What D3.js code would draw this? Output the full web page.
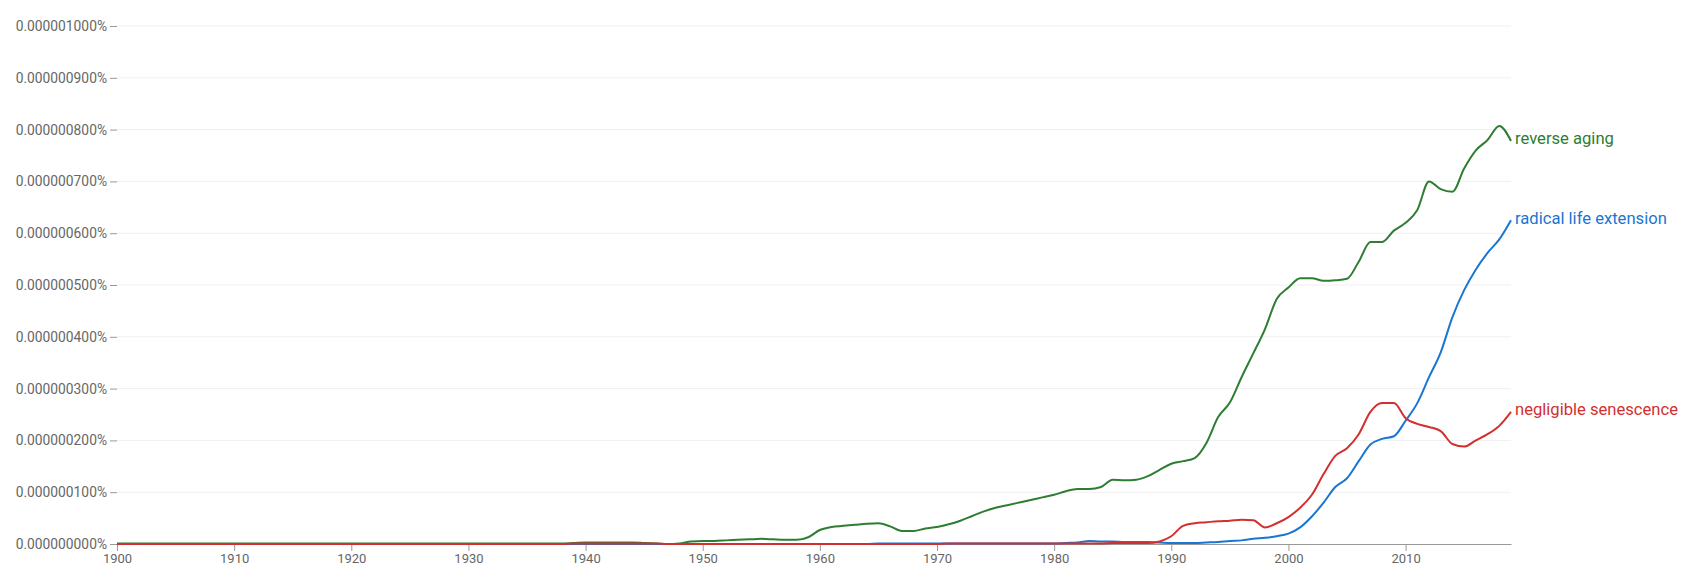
<!DOCTYPE html>
<html>
<head>
<meta charset="utf-8">
<script src="https://cdn.jsdelivr.net/npm/d3@7.9.0/dist/d3.min.js"></script>
<style>
  html, body { margin: 0; padding: 0; background: #fff; }
  svg { display: block; font-family: Roboto, "Noto Sans", sans-serif; }
  .grid line { stroke: #f0f0f0; }
  .tick text { fill: #666; }
</style>
</head>
<body>
<svg id="chart" width="1698" height="582"></svg>
<script>
// values in billionths of a percent (100 -> 0.000000100%)
const years = d3.range(1900, 2020);

const reverseAging = [
  1, 1, 1, 1, 1, 1, 1, 1, 1, 1,            // 1900s
  1, 1, 1, 1, 1, 1, 1, 1, 1, 1,            // 1910s
  1, 1, 1, 1, 1, 1, 1, 1, 1, 1,            // 1920s
  1, 1, 1, 1, 1, 1, 1, 1, 1, 2,            // 1930s
  3, 3, 3, 3, 3, 2, 1, 0, 1, 5,            // 1940s
  6, 6, 7, 8, 9, 10, 9, 8, 8, 13,          // 1950s
  27, 33, 35, 37, 39, 40, 34, 25, 25, 30,  // 1960s
  33, 38, 45, 54, 63, 70, 75, 80, 85, 90,  // 1970s
  95, 102, 106, 106, 110, 124, 123, 124, 131, 143, // 1980s
  155, 160, 166, 195, 245, 273, 322, 368, 415, 473, // 1990s
  495, 513, 513, 508, 509, 512, 545, 583, 583, 605, // 2000s
  620, 645, 700, 685, 680, 725, 760, 780, 807, 778  // 2010s
];

const radicalLifeExtension = [
  0, 0, 0, 0, 0, 0, 0, 0, 0, 0,
  0, 0, 0, 0, 0, 0, 0, 0, 0, 0,
  0, 0, 0, 0, 0, 0, 0, 0, 0, 0,
  0, 0, 0, 0, 0, 0, 0, 0, 0, 0,
  0, 0, 0, 0, 0, 0, 0, 0, 0, 0,
  0, 0, 0, 0, 0, 0, 0, 0, 0, 0,
  0, 0, 0, 0, 0, 1, 1, 1, 1, 1,
  1, 1, 1, 1, 1, 1, 1, 1, 1, 1,
  1, 2, 3, 6, 5, 5, 4, 4, 4, 3,
  2, 2, 2, 3, 4, 6, 7, 10, 12, 15,
  20, 32, 53, 80, 110, 127, 160, 192, 203, 208,
  238, 272, 322, 370, 438, 490, 530, 562, 588, 625
];

const negligibleSenescence = [
  0, 0, 0, 0, 0, 0, 0, 0, 0, 0,
  0, 0, 0, 0, 0, 0, 0, 0, 0, 0,
  0, 0, 0, 0, 0, 0, 0, 0, 0, 0,
  0, 0, 0, 0, 0, 0, 0, 0, 0, 1,
  1, 1, 1, 1, 1, 1, 1, 0, 0, 0,
  0, 0, 0, 0, 0, 0, 0, 0, 0, 0,
  0, 0, 0, 0, 0, 0, 0, 0, 0, 0,
  0, 1, 1, 1, 1, 1, 1, 1, 1, 1,
  1, 1, 1, 1, 1, 2, 2, 2, 2, 5,
  15, 35, 40, 42, 44, 45, 47, 46, 32, 40,
  52, 70, 95, 135, 170, 185, 212, 255, 272, 272,
  243, 232, 226, 218, 193, 188, 200, 212, 228, 255
];

const seriesNames = ["reverse aging", "radical life extension", "negligible senescence"];
const seriesValues = [reverseAging, radicalLifeExtension, negligibleSenescence];
const seriesColors = ["#2e7d32", "#1976d2", "#d32f2f"];

const yTicks = [0, 100, 200, 300, 400, 500, 600, 700, 800, 900, 1000];
const xTicks = [1900, 1910, 1920, 1930, 1940, 1950, 1960, 1970, 1980, 1990, 2000, 2010];

// ---------- Layout ----------
const width = 1698, height = 582;
const margin = { top: 26, right: 187, bottom: 38, left: 117 };

const svg = d3.select("#chart");

const x = d3.scaleLinear()
  .domain([1900, 2019])
  .range([margin.left, width - margin.right]);

const y = d3.scaleLinear()
  .domain([0, 1000])
  .range([height - margin.bottom, margin.top]);

// gridlines
svg.append("g")
  .attr("class", "grid")
  .selectAll("line")
  .data(yTicks.slice(1))
  .join("line")
  .attr("x1", x(1900))
  .attr("x2", x(2019))
  .attr("y1", d => y(d))
  .attr("y2", d => y(d));

// y axis (ticks and labels only)
const yAxis = svg.append("g")
  .attr("transform", `translate(${margin.left},0)`)
  .call(d3.axisLeft(y)
    .tickValues(yTicks)
    .tickSize(7)
    .tickPadding(3)
    .tickFormat(d => d3.format(".9f")(d * 1e-9) + "%"));
yAxis.attr("font-family", "Roboto").attr("font-size", 13.8);
yAxis.select(".domain").remove();
yAxis.selectAll(".tick line").attr("stroke", "#999");

// x axis
const xAxis = svg.append("g")
  .attr("transform", `translate(0,${y(0)})`)
  .call(d3.axisBottom(x)
    .tickValues(xTicks)
    .tickSize(7)
    .tickSizeOuter(0)
    .tickPadding(3)
    .tickFormat(d3.format("d")));
xAxis.attr("font-family", "Roboto").attr("font-size", 13);
xAxis.select(".domain").attr("stroke", "#999");
xAxis.selectAll(".tick line").attr("stroke", "#999");

// ---------- Lines ----------
const line = d3.line()
  .x((d, i) => x(years[i]))
  .y(d => y(d))
  .curve(d3.curveMonotoneX);

const series = svg.append("g")
  .selectAll("g")
  .data(seriesNames.map((name, i) => ({ name, values: seriesValues[i], color: seriesColors[i] })))
  .join("g");

series.append("path")
  .attr("d", d => line(d.values))
  .attr("fill", "none")
  .attr("stroke", d => d.color)
  .attr("stroke-width", 2);

series.append("text")
  .attr("x", x(2019) + 4)
  .attr("y", d => y(d.values[d.values.length - 1]))
  .attr("dy", "0.2em")
  .attr("fill", d => d.color)
  .style("font-family", "Roboto")
  .style("font-size", "16.6px")
  .text(d => d.name);
</script>
</body>
</html>
